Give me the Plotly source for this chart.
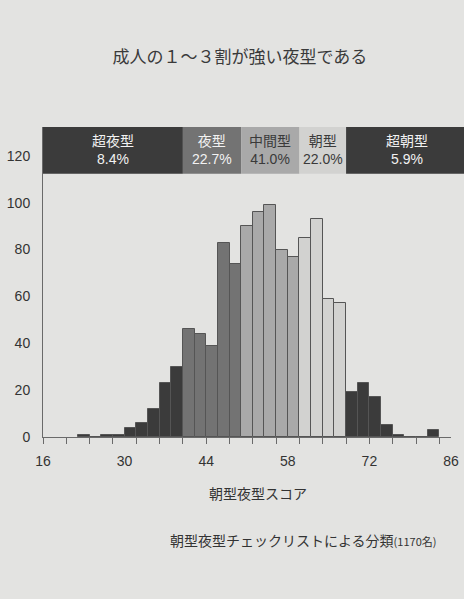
import plotly.graph_objects as go

# bins of width 2, left edges
bin_left = [22, 24, 26, 28, 30, 32, 34, 36, 38, 40, 42, 44, 46, 48, 50, 52, 54,
            56, 58, 60, 62, 64, 66, 68, 70, 72, 74, 76, 78, 80, 82]
counts = [1, 0, 1, 1, 4, 6, 12, 23, 30, 46, 44, 39, 83, 74, 90, 96, 99,
          80, 77, 85, 93, 59, 57, 19, 23, 17, 5, 1, 0, 0, 3]

# classification bands
cat_names = ["超夜型", "夜型", "中間型", "朝型", "超朝型"]
cat_pcts = ["8.4%", "22.7%", "41.0%", "22.0%", "5.9%"]
cat_edges = [16, 40, 50, 60, 68, 90]
cat_fill = ["#3b3b3b", "#737373", "#a9a9a9", "#d2d2d0", "#3b3b3b"]
cat_text = ["#f2f2f2", "#f2f2f2", "#3a3a3a", "#3a3a3a", "#f2f2f2"]

x_labels = [16, 30, 44, 58, 72, 86]

X0, X1 = 16, 86
BG = "#e3e3e1"
FONT = "Liberation Sans, Noto Sans CJK JP, sans-serif"


def cat_of(x):
    for i in range(len(cat_names)):
        if cat_edges[i] <= x < cat_edges[i + 1]:
            return i
    return len(cat_names) - 1


def to_paper(x):
    return (x - X0) / (X1 - X0)


centers = [b + 1 for b in bin_left]
colors = [cat_fill[cat_of(b)] for b in bin_left]

fig = go.Figure()
fig.add_trace(go.Bar(
    x=centers, y=counts, width=2,
    marker=dict(color=colors, line=dict(color="#555555", width=1)),
    hoverinfo="x+y", showlegend=False,
))
# dummy trace so the label axis is drawn
fig.add_trace(go.Scatter(x=[X0, X1], y=[0, 0], xaxis="x2", mode="lines",
                         line=dict(width=0), hoverinfo="skip", showlegend=False))

# header band
band_end = 1.04
for i, name in enumerate(cat_names):
    p0 = to_paper(cat_edges[i])
    p1 = band_end if i == len(cat_names) - 1 else to_paper(cat_edges[i + 1])
    fig.add_shape(type="rect", xref="paper", yref="y", x0=p0, x1=p1, y0=112.3, y1=132.3,
                  fillcolor=cat_fill[i], line=dict(width=0), layer="above")
    fig.add_annotation(xref="paper", yref="y", x=(p0 + p1) / 2, y=122.3,
                       xanchor="center", yanchor="middle",
                       text=f"{name}<br>{cat_pcts[i]}", showarrow=False,
                       font=dict(family=FONT, size=14, color=cat_text[i]))

fig.add_annotation(xref="paper", yref="paper", x=0.527, y=-0.181,
                   xanchor="center", yanchor="middle",
                   text="朝型夜型スコア", showarrow=False,
                   font=dict(family="Noto Sans CJK JP", size=14, color="#333333"))
fig.add_annotation(xref="paper", yref="paper", x=0.968, y=-0.332,
                   xanchor="right", yanchor="middle",
                   text="朝型夜型チェックリストによる分類<span style='font-size:11px'>(1170名)</span>",
                   showarrow=False,
                   font=dict(family="Noto Sans CJK JP", size=14, color="#333333"))

fig.update_layout(
    width=464, height=599,
    margin=dict(l=43, r=13, t=127, b=162),
    paper_bgcolor=BG, plot_bgcolor=BG,
    bargap=0,
    title=dict(text="成人の１～３割が強い夜型である", x=0.517, xanchor="center",
               y=0.905, yanchor="middle",
               font=dict(family="Noto Sans CJK JP", size=17, color="#3a3a3a")),
    xaxis=dict(range=[X0, X1], showgrid=False, zeroline=False, automargin=False,
               showline=True, linecolor="#6a6a6a", linewidth=1,
               tickmode="linear", tick0=16, dtick=4, ticks="outside", ticklen=6,
               tickcolor="#6a6a6a", showticklabels=False),
    xaxis2=dict(range=[X0, X1], overlaying="x", anchor="y", side="bottom",
                showgrid=False, zeroline=False, showline=False, ticks="",
                automargin=False, tickvals=x_labels, ticklabelstandoff=14,
                tickfont=dict(family=FONT, size=14, color="#333333")),
    yaxis=dict(range=[0, 132.3], tickvals=[0, 20, 40, 60, 80, 100, 120],
               showgrid=False, zeroline=False, showline=True, automargin=False,
               linecolor="#6a6a6a", linewidth=1, ticks="", ticklabelstandoff=9,
               tickfont=dict(family=FONT, size=14, color="#333333")),
)

# drop the page's default body margin so the figure fills the window
fig.write_html("out.html", config={"displayModeBar": False},
               post_script="document.body.style.margin='0';")
